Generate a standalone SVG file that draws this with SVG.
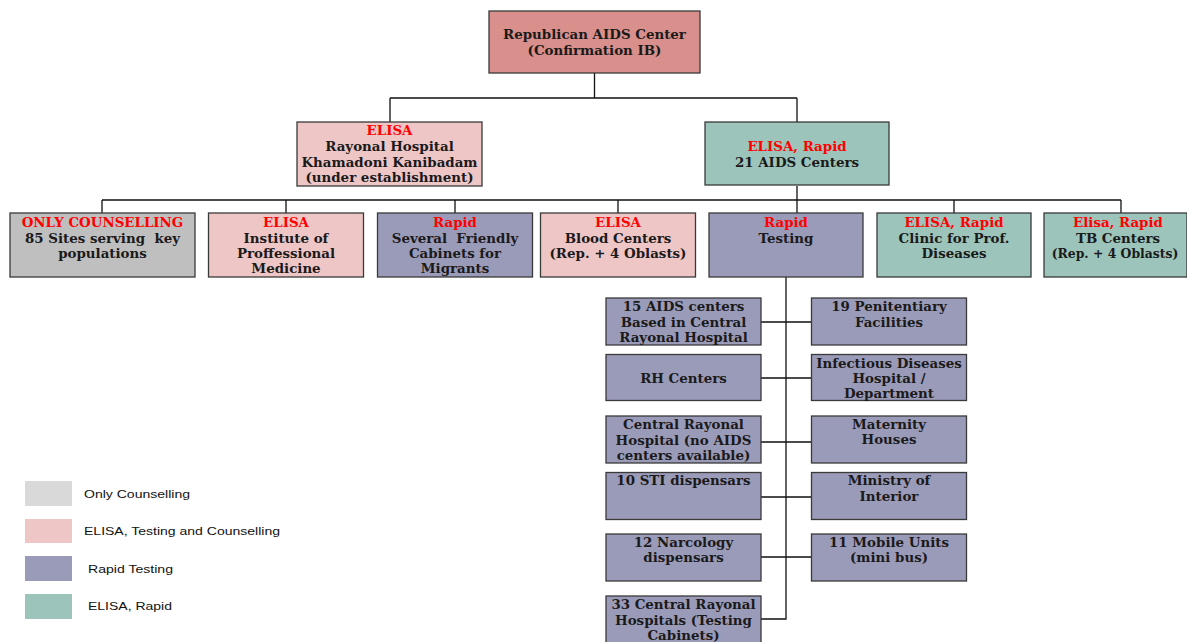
<svg xmlns="http://www.w3.org/2000/svg" width="1187" height="642" viewBox="0 0 1187 642">
<style>
.b{stroke:#3a3a3a;stroke-width:1.3}
.top{fill:#d98f8b}
.pk{fill:#efc6c6}
.pu{fill:#9a9bb9}
.gr{fill:#9cc4bb}
.gy{fill:#bfbfbf}
text{font-family:"DejaVu Serif","Liberation Serif",serif;font-weight:bold;font-size:13.4px;fill:#1a1a1a;text-anchor:middle;white-space:pre}
text .r{fill:#ff0000}
.lg{font-family:"Liberation Sans",Arial,sans-serif;font-weight:normal;font-size:11px;text-anchor:start;fill:#111}
.c{fill:none;stroke:#111;stroke-width:1.3}
</style>
<rect width="1187" height="642" fill="#ffffff"/>
<g id="connectors">
<path class="c" d="M594.5 73V98M390 98H797M390 98V122M797 98V122"/>
<path class="c" d="M797 186V213M102 200H1121M102 200V213M286 200V213M455 200V213M618 200V213M954 200V213M1121 200V213"/>
<path class="c" d="M786 277V619H761M761 322H811M761 378H811M761 442H811M761 497H811M761 557H811"/>
</g>
<g id="n-top"><rect class="b top" x="489" y="11" width="211" height="62"/>
<text x="594.5"><tspan x="594.5" y="39">Republican AIDS Center</tspan><tspan x="594.5" y="55">(Confirmation IB)</tspan></text></g>
<g id="n-rayonal"><rect class="b pk" x="297" y="122" width="185" height="64"/>
<text x="389.5"><tspan class="r" x="389.5" y="135">ELISA</tspan><tspan x="389.5" y="151">Rayonal Hospital</tspan><tspan x="389.5" y="166.5">Khamadoni Kanibadam</tspan><tspan x="389.5" y="182">(under establishment)</tspan></text></g>
<g id="n-21aids"><rect class="b gr" x="705" y="122" width="184" height="63"/>
<text><tspan class="r" x="797" y="151">ELISA, Rapid</tspan><tspan x="797" y="167">21 AIDS Centers</tspan></text></g>
<g id="n-counselling"><rect class="b gy" x="10" y="213" width="185" height="64"/>
<text><tspan class="r" x="102.5" y="227">ONLY COUNSELLING</tspan><tspan x="102.5" y="243">85 Sites serving  key</tspan><tspan x="102.5" y="258">populations</tspan></text></g>
<g id="n-institute"><rect class="b pk" x="208.5" y="213" width="155" height="64"/>
<text><tspan class="r" x="286" y="227">ELISA</tspan><tspan x="286" y="243">Institute of</tspan><tspan x="286" y="258">Proffessional</tspan><tspan x="286" y="273">Medicine</tspan></text></g>
<g id="n-cabinets"><rect class="b pu" x="377.5" y="213" width="155" height="64"/>
<text><tspan class="r" x="455" y="227">Rapid</tspan><tspan x="455" y="243">Several  Friendly</tspan><tspan x="455" y="258">Cabinets for</tspan><tspan x="455" y="273">Migrants</tspan></text></g>
<g id="n-blood"><rect class="b pk" x="540.5" y="213" width="155" height="64"/>
<text><tspan class="r" x="618" y="227">ELISA</tspan><tspan x="618" y="243">Blood Centers</tspan><tspan x="618" y="258">(Rep. + 4 Oblasts)</tspan></text></g>
<g id="n-testing"><rect class="b pu" x="709" y="213" width="154" height="64"/>
<text><tspan class="r" x="786" y="227">Rapid</tspan><tspan x="786" y="243">Testing</tspan></text></g>
<g id="n-clinic"><rect class="b gr" x="877" y="213" width="154" height="64"/>
<text><tspan class="r" x="954" y="227">ELISA, Rapid</tspan><tspan x="954" y="243">Clinic for Prof.</tspan><tspan x="954" y="258">Diseases</tspan></text></g>
<g id="n-tb"><rect class="b gr" x="1044" y="213" width="143" height="64"/>
<text><tspan class="r" x="1118" y="227">Elisa, Rapid</tspan><tspan x="1118" y="243">TB Centers</tspan></text>
<text x="1115" y="258" style="font-size:12.4px">(Rep. + 4 Oblasts)</text></g>
<g id="n-15aids"><rect class="b pu" x="606" y="298" width="155" height="47"/>
<text><tspan x="683.5" y="311">15 AIDS centers</tspan><tspan x="683.5" y="327">Based in Central</tspan><tspan x="683.5" y="342">Rayonal Hospital</tspan></text></g>
<g id="n-penitentiary"><rect class="b pu" x="811.5" y="298" width="155" height="47"/>
<text><tspan x="889" y="311">19 Penitentiary</tspan><tspan x="889" y="327">Facilities</tspan></text></g>
<g id="n-rh"><rect class="b pu" x="606" y="354.5" width="155" height="46"/>
<text><tspan x="683.5" y="383">RH Centers</tspan></text></g>
<g id="n-infectious"><rect class="b pu" x="811.5" y="354.5" width="155" height="46"/>
<text><tspan x="889" y="368">Infectious Diseases</tspan><tspan x="889" y="383">Hospital /</tspan><tspan x="889" y="398">Department</tspan></text></g>
<g id="n-crh"><rect class="b pu" x="606" y="416" width="155" height="47"/>
<text><tspan x="683.5" y="429">Central Rayonal</tspan><tspan x="683.5" y="445">Hospital (no AIDS</tspan><tspan x="683.5" y="460">centers available)</tspan></text></g>
<g id="n-maternity"><rect class="b pu" x="811.5" y="416" width="155" height="47"/>
<text><tspan x="889" y="429">Maternity</tspan><tspan x="889" y="444">Houses</tspan></text></g>
<g id="n-sti"><rect class="b pu" x="606" y="472.5" width="155" height="47"/>
<text><tspan x="683.5" y="485">10 STI dispensars</tspan></text></g>
<g id="n-ministry"><rect class="b pu" x="811.5" y="472.5" width="155" height="47"/>
<text><tspan x="889" y="485">Ministry of</tspan><tspan x="889" y="501">Interior</tspan></text></g>
<g id="n-narcology"><rect class="b pu" x="606" y="534" width="155" height="47"/>
<text><tspan x="683.5" y="547">12 Narcology</tspan><tspan x="683.5" y="562">dispensars</tspan></text></g>
<g id="n-mobile"><rect class="b pu" x="811.5" y="534" width="155" height="47"/>
<text><tspan x="889" y="547">11 Mobile Units</tspan><tspan x="889" y="562">(mini bus)</tspan></text></g>
<g id="n-33crh"><rect class="b pu" x="606" y="596" width="155" height="50"/>
<text><tspan x="683.5" y="609">33 Central Rayonal</tspan><tspan x="683.5" y="625">Hospitals (Testing</tspan><tspan x="683.5" y="640">Cabinets)</tspan></text></g>
<g id="legend">
<rect x="25" y="481" width="47" height="25" fill="#d9d9d9"/>
<rect x="25" y="519" width="47" height="24" fill="#efc6c6"/>
<rect x="25" y="556" width="47" height="25" fill="#9a9bb9"/>
<rect x="25" y="594" width="47" height="25" fill="#9cc4bb"/>
<text class="lg" x="84" y="498" textLength="106" lengthAdjust="spacingAndGlyphs">Only Counselling</text>
<text class="lg" x="84" y="535" textLength="196" lengthAdjust="spacingAndGlyphs">ELISA, Testing and Counselling</text>
<text class="lg" x="88" y="573" textLength="85" lengthAdjust="spacingAndGlyphs">Rapid Testing</text>
<text class="lg" x="88" y="610" textLength="84" lengthAdjust="spacingAndGlyphs">ELISA, Rapid</text>
</g>
</svg>
